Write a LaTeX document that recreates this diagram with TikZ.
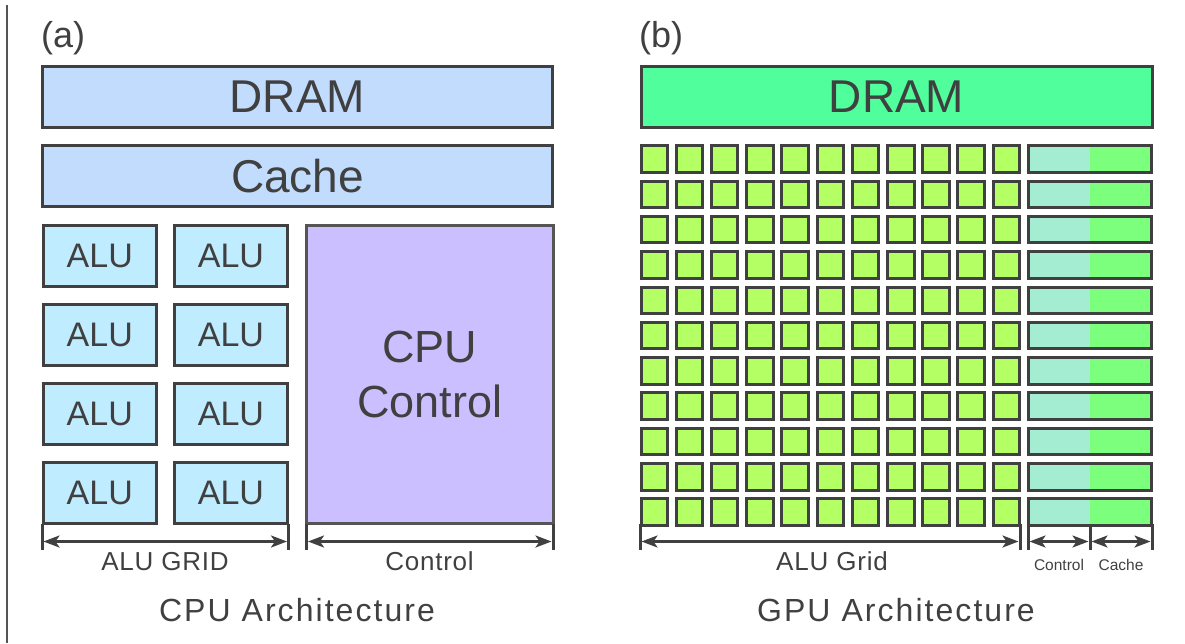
\documentclass[tikz,border=0pt]{standalone}
\usepackage{fontspec}
\setmainfont{Liberation Sans}
\newfontfamily\widesans[LetterSpace=6.4]{Liberation Sans}
\newfontfamily\dimsans[LetterSpace=3]{Liberation Sans}
\usetikzlibrary{arrows.meta}
\definecolor{ink}{HTML}{404040}
\definecolor{framegray}{HTML}{555555}
\definecolor{cpumem}{HTML}{C2DCFE}
\definecolor{alufill}{HTML}{C0ECFF}
\definecolor{ctrlfill}{HTML}{CCBFFF}
\definecolor{gpumem}{HTML}{50FF9B}
\definecolor{corefill}{HTML}{B4FF64}
\definecolor{gctrlfill}{HTML}{A5EDD2}
\definecolor{gcachefill}{HTML}{7CFF7C}
\newcommand{\fsz}[1]{\fontsize{#1}{#1}\selectfont}
\tikzset{
  unitbox/.style={draw=ink, line width=3pt, inner sep=0pt, text=ink, anchor=north west},
  label/.style={text=ink, inner sep=0pt, anchor=base},
  dimline/.style={draw=ink, line width=2.5pt,
    {Stealth[length=16pt,width=12pt,inset=4pt]}-{Stealth[length=16pt,width=12pt,inset=4pt]}},
  tickline/.style={draw=ink, line width=3pt},
}
\begin{document}
\begin{tikzpicture}[x=1pt,y=-1pt]
\useasboundingbox (0,0) rectangle (1185,643);
% frame rule on the left
\draw[framegray, line width=1.5pt] (7,5) -- (7,643);

% ---------------- (a) CPU ----------------
\node[label, anchor=base west, font=\fsz{36}] (tagA) at (41,47) {(a)};
\node[unitbox, fill=cpumem, minimum width=510, minimum height=61, font=\fsz{46}]
  (dramA) at (41,65) {DRAM};
\node[unitbox, fill=cpumem, minimum width=510, minimum height=61, font=\fsz{46}]
  (cacheA) at (41,144) {Cache};
\foreach \r in {0,...,3}{
  \foreach \c/\x in {0/41.5,1/172.7}{
    \node[unitbox, fill=alufill, minimum width=113.5, minimum height=60.5, font=\fsz{34}]
      (alu-\r-\c) at (\x,224+79*\r) {ALU};
  }
}
\node[unitbox, draw=framegray, fill=ctrlfill, minimum width=246.5, minimum height=297.5,
  font=\fsz{45}, align=center, execute at begin node={\baselineskip=55pt}]
  (ctrlA) at (305,224) {CPU\\Control};

% dimension marks
\coordinate (a0) at (42,541.5);
\coordinate (a1) at (288.5,541.5);
\coordinate (a2) at (306.5,541.5);
\coordinate (a3) at (553,541.5);
\foreach \p in {a0,a1,a2,a3}{
  \draw[tickline] ([yshift=-8.5pt]\p) -- ([yshift=18pt]\p);
}
\draw[dimline] ([xshift=1.5pt]a0) -- ([xshift=-1.5pt]a1);
\draw[dimline] ([xshift=1.5pt]a2) -- ([xshift=-1.5pt]a3);
\node[label, font=\dimsans\fsz{26}] (gridA) at (165,570.7) {ALU GRID};
\node[label, font=\dimsans\fsz{26}] (ctrlLabA) at (429.5,570.7) {Control};
\node[label, font=\widesans\fsz{32}] (titleA) at (297,621.7) {CPU Architecture};

% ---------------- (b) GPU ----------------
\node[label, anchor=base west, font=\fsz{36}] (tagB) at (639,47) {(b)};
\node[unitbox, fill=gpumem, minimum width=511, minimum height=61, font=\fsz{46}]
  (dramB) at (639.5,65) {DRAM};
\foreach \j in {0,...,10}{
  \foreach \i in {0,...,10}{
    \node[unitbox, fill=corefill, minimum width=26.5, minimum height=26.5]
      (core-\j-\i) at (639.5+35.22*\i,144.3+35.3*\j) {};
  }
  \fill[gctrlfill] (1028,145.8+35.3*\j) rectangle (1090,172.3+35.3*\j);
  \fill[gcachefill] (1090,145.8+35.3*\j) rectangle (1151.5,172.3+35.3*\j);
  \node[unitbox, minimum width=123.5, minimum height=26.5]
    (bar-\j) at (1026.5,144.3+35.3*\j) {};
}

% dimension marks
\coordinate (b0) at (640,541.5);
\coordinate (b1) at (1020,541.5);
\coordinate (b2) at (1028,541.5);
\coordinate (b3) at (1090,541.5);
\coordinate (b4) at (1152,541.5);
\foreach \p in {b0,b1,b2,b3,b4}{
  \draw[tickline] ([yshift=-8.5pt]\p) -- ([yshift=18pt]\p);
}
\draw[dimline] ([xshift=1.5pt]b0) -- ([xshift=-1.5pt]b1);
\draw[dimline] ([xshift=1.5pt]b2) -- ([xshift=-1.5pt]b3);
\draw[dimline] ([xshift=1.5pt]b3) -- ([xshift=-1.5pt]b4);
\node[label, font=\dimsans\fsz{26}] (gridB) at (832,570.7) {ALU Grid};
\node[label, font=\fsz{15.5}] (ctrlLabB) at (1059,570.7) {Control};
\node[label, font=\fsz{15.5}] (cacheLabB) at (1121,570.7) {Cache};
\node[label, font=\widesans\fsz{32}] (titleB) at (896,621.7) {GPU Architecture};
\end{tikzpicture}
\end{document}
